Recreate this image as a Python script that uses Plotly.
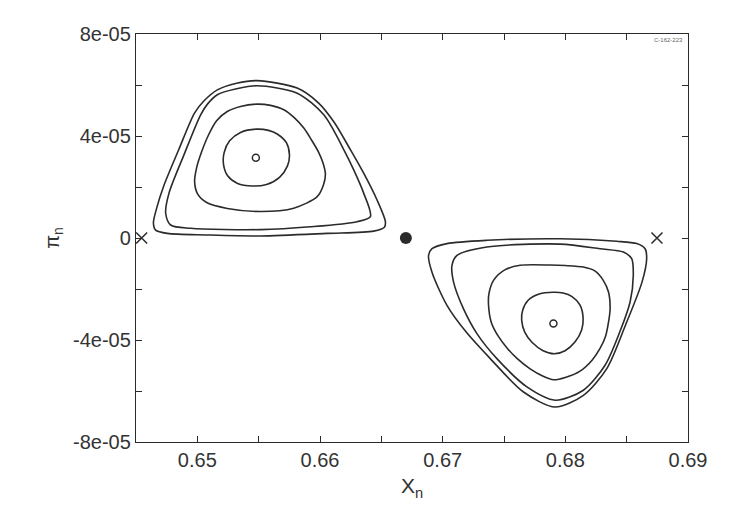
import plotly.graph_objects as go

# ---- data (x = X_n, y = pi_n in units of 1e-5) ----
Y_UNIT = 1e-5

L4_x = [0.65487, 0.65320, 0.65163, 0.65055, 0.64978, 0.64848, 0.64726, 0.64669, 0.64642, 0.64660,
        0.64756, 0.65081, 0.65515, 0.66058, 0.66438, 0.66525, 0.66533, 0.66465, 0.66356, 0.66248,
        0.66118, 0.65987, 0.65814]
L4_y = [6.17, 6.07, 5.81, 5.38, 4.91, 3.46, 2.04, 1.18, 0.59, 0.31,
        0.18, 0.12, 0.08, 0.18, 0.27, 0.42, 0.64, 1.49, 2.54, 3.46,
        4.52, 5.30, 5.88]

L3_x = [0.65488, 0.65320, 0.65163, 0.65084, 0.65027, 0.64891, 0.64769, 0.64742, 0.64783, 0.64945,
        0.65515, 0.65922, 0.66303, 0.66411, 0.66356, 0.66275, 0.66207, 0.66031, 0.65814]
L3_y = [5.97, 5.85, 5.62, 5.26, 4.83, 3.26, 1.76, 0.97, 0.51, 0.38,
        0.33, 0.44, 0.64, 0.84, 1.76, 2.67, 3.34, 4.83, 5.68]

L2_x = [0.65488, 0.65352, 0.65244, 0.65157, 0.65092, 0.65035, 0.64994, 0.64978, 0.65002, 0.65076,
        0.65244, 0.65515, 0.65786, 0.65977, 0.66028, 0.66044, 0.66024, 0.65987, 0.65930, 0.65868,
        0.65792, 0.65705, 0.65597]
L2_y = [5.25, 5.16, 4.96, 4.60, 4.05, 3.38, 2.75, 2.20, 1.73, 1.39,
        1.16, 1.04, 1.17, 1.62, 2.08, 2.51, 2.95, 3.38, 3.85, 4.31,
        4.71, 5.03, 5.20]

L1_x = [0.65483, 0.65352, 0.65263, 0.65218, 0.65214, 0.65247, 0.65328, 0.65450, 0.65564, 0.65670,
        0.65735, 0.65751, 0.65727, 0.65654, 0.65580]
L1_y = [4.27, 4.14, 3.81, 3.34, 2.87, 2.44, 2.14, 2.04, 2.10, 2.38,
        2.83, 3.26, 3.73, 4.07, 4.22]

R4_x = [0.67958, 0.67361, 0.67035, 0.66913, 0.66885, 0.66913, 0.67035, 0.67192, 0.67388, 0.67659,
        0.67917, 0.68147, 0.68338, 0.68490, 0.68625, 0.68663, 0.68650, 0.68582, 0.68419]
R4_y = [-0.03, -0.09, -0.22, -0.42, -0.68, -1.34, -2.64, -3.69, -4.73, -6.04,
        -6.63, -6.17, -5.12, -3.42, -1.73, -0.81, -0.42, -0.22, -0.13]

R3_x = [0.67958, 0.67361, 0.67117, 0.67076, 0.67089, 0.67170, 0.67282, 0.67442, 0.67687, 0.67917,
        0.68147, 0.68324, 0.68450, 0.68528, 0.68554, 0.68541, 0.68473, 0.68283]
R3_y = [-0.24, -0.35, -0.68, -1.07, -1.73, -2.78, -3.77, -4.73, -5.84, -6.36,
        -5.97, -4.99, -3.61, -2.51, -1.47, -0.81, -0.55, -0.42]

R2_x = [0.67876, 0.67632, 0.67510, 0.67416, 0.67378, 0.67374, 0.67396, 0.67453, 0.67526, 0.67608,
        0.67713, 0.67819, 0.67903, 0.68006, 0.68120, 0.68218, 0.68283, 0.68328, 0.68352, 0.68365,
        0.68352, 0.68308, 0.68243, 0.68147, 0.67998]
R2_y = [-1.06, -1.07, -1.24, -1.65, -2.16, -2.64, -3.30, -3.85, -4.32, -4.73,
        -5.13, -5.42, -5.56, -5.46, -5.22, -4.79, -4.33, -3.85, -3.30, -2.78,
        -2.12, -1.65, -1.30, -1.14, -1.08]

R1_x = [0.67901, 0.67787, 0.67697, 0.67652, 0.67644, 0.67669, 0.67730, 0.67819, 0.67909, 0.67998,
        0.68080, 0.68133, 0.68145, 0.68120, 0.68055, 0.67982]
R1_y = [-2.13, -2.20, -2.44, -2.83, -3.22, -3.69, -4.10, -4.42, -4.54, -4.42,
        -4.07, -3.61, -3.14, -2.63, -2.30, -2.16]

centers_x = [0.65477, 0.67903]
centers_y = [3.15, -3.35]

fixed_x = [0.66700]
fixed_y = [0.0]

saddle_x = [0.64546, 0.68747]
saddle_y = [0.0, 0.0]

x_tickvals = [0.65, 0.66, 0.67, 0.68, 0.69]
x_ticktext = ["0.65", "0.66", "0.67", "0.68", "0.69"]
y_tickvals = [8e-05, 4e-05, 0, -4e-05, -8e-05]
y_ticktext = ["8e-05", "4e-05", "0", "-4e-05", "-8e-05"]

LINE = "#2b2b2b"
FONT = "Liberation Sans, Arial, sans-serif"

fig = go.Figure()

curves = [(L4_x, L4_y), (L3_x, L3_y), (L2_x, L2_y), (L1_x, L1_y),
          (R4_x, R4_y), (R3_x, R3_y), (R2_x, R2_y), (R1_x, R1_y)]
for cx, cy in curves:
    xs = list(cx) + [cx[0]]
    ys = [v * Y_UNIT for v in cy] + [cy[0] * Y_UNIT]
    fig.add_trace(go.Scatter(x=xs, y=ys, mode="lines",
                             line=dict(color=LINE, width=1.6, shape="spline", smoothing=0.8),
                             hoverinfo="skip", showlegend=False))

fig.add_trace(go.Scatter(x=centers_x, y=[v * Y_UNIT for v in centers_y], mode="markers",
                         marker=dict(symbol="circle-open", size=7, color=LINE, line=dict(width=1.5, color=LINE)),
                         showlegend=False))
fig.add_trace(go.Scatter(x=fixed_x, y=fixed_y, mode="markers",
                         marker=dict(symbol="circle", size=12, color=LINE),
                         showlegend=False))
fig.add_trace(go.Scatter(x=saddle_x, y=saddle_y, mode="markers",
                         marker=dict(symbol="x-thin", size=11, color=LINE, line=dict(width=1.5, color=LINE)),
                         showlegend=False, cliponaxis=False))

axis_common = dict(showline=True, mirror="ticks", linecolor=LINE, linewidth=1.3,
                   ticks="inside", ticklen=6, tickwidth=1.2, tickcolor=LINE,
                   showgrid=False, zeroline=False,
                   tickfont=dict(family=FONT, size=20, color="#333333"))

fig.update_layout(
    width=739, height=520,
    paper_bgcolor="white", plot_bgcolor="white",
    margin=dict(l=128, r=59, t=26, b=86),
    xaxis=dict(range=[0.645, 0.69], tickmode="array", tickvals=x_tickvals, ticktext=x_ticktext,
               minor=dict(dtick=0.005, tick0=0.645, ticks="inside", ticklen=6, tickwidth=1.2, tickcolor=LINE, showgrid=False),
               title=dict(text="X<sub>n</sub>", font=dict(family=FONT, size=21, color="#333333"), standoff=8),
               **axis_common),
    yaxis=dict(range=[-8e-05, 8e-05], tickmode="array", tickvals=y_tickvals, ticktext=y_ticktext,
               minor=dict(dtick=2e-05, tick0=0, ticks="inside", ticklen=6, tickwidth=1.2, tickcolor=LINE, showgrid=False),
               title=dict(text="π<sub>n</sub>", font=dict(family=FONT, size=20, color="#333333"), standoff=8),
               **axis_common),
    annotations=[dict(text="C-162-223", xref="paper", yref="paper", x=0.995, y=0.998,
                      xanchor="right", yanchor="top", showarrow=False,
                      font=dict(family=FONT, size=6, color="#666666"))],
)

fig.write_html("out.html")
